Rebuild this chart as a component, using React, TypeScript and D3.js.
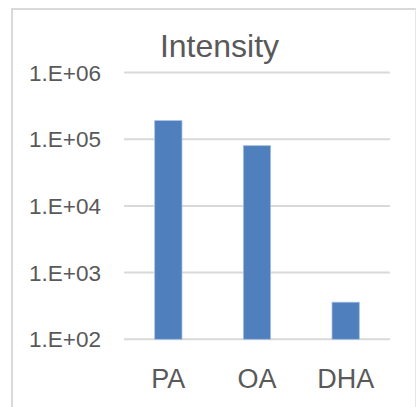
import React from "react";
import * as d3 from "d3";

const categories = ["PA", "OA", "DHA"];
const values = [190000, 80000, 360];
const tickValues = [1e2, 1e3, 1e4, 1e5, 1e6];
const tickLabels = ["1.E+02", "1.E+03", "1.E+04", "1.E+05", "1.E+06"];
const title = "Intensity";

const W = 417;
const H = 407;
const FONT = "'Liberation Sans', Arial, sans-serif";
const TEXT = "#595959";

export default function App() {
  const x = d3
    .scaleBand<string>()
    .domain(categories)
    .range([124, 390])
    .paddingInner(0.692)
    .paddingOuter(0.346);
  const y = d3.scaleLog().domain([1e2, 1e6]).range([339.3, 72.5]);

  return (
    <svg
      width={W}
      height={H}
      style={{ position: "absolute", left: 0, top: 0, background: "#fff" }}
    >
      <rect x={0} y={0} width={W} height={H} fill="#fff" />
      {/* chart border */}
      <line x1={12} y1={9} x2={12} y2={H} stroke="#D9D9D9" strokeWidth={2} />
      <line x1={11} y1={9} x2={416} y2={9} stroke="#D9D9D9" strokeWidth={2} />
      <line x1={415.5} y1={9} x2={415.5} y2={H} stroke="#E6E6E6" strokeWidth={1} />

      <text
        x={219.5}
        y={57.3}
        textAnchor="middle"
        fontFamily={FONT}
        fontSize={32}
        fill={TEXT}
      >
        {title}
      </text>

      {tickValues.map((t, i) => (
        <g key={t}>
          <line
            x1={124}
            x2={390}
            y1={y(t)}
            y2={y(t)}
            stroke="#D9D9D9"
            strokeWidth={2}
          />
          <text
            x={101}
            y={y(t) + 8}
            textAnchor="end"
            fontFamily={FONT}
            fontSize={22.5}
            fill={TEXT}
          >
            {tickLabels[i]}
          </text>
        </g>
      ))}

      {categories.map((c, i) => (
        <rect
          key={c}
          x={x(c)!}
          y={y(values[i])}
          width={x.bandwidth()}
          height={y(1e2) - y(values[i])}
          fill="#4F7FBC"
          stroke="#A7C0E3"
          strokeWidth={0.8}
        />
      ))}

      {categories.map((c) => (
        <text
          key={c}
          x={x(c)! + x.bandwidth() / 2}
          y={387.7}
          textAnchor="middle"
          fontFamily={FONT}
          fontSize={27}
          fill={TEXT}
        >
          {c}
        </text>
      ))}
    </svg>
  );
}
